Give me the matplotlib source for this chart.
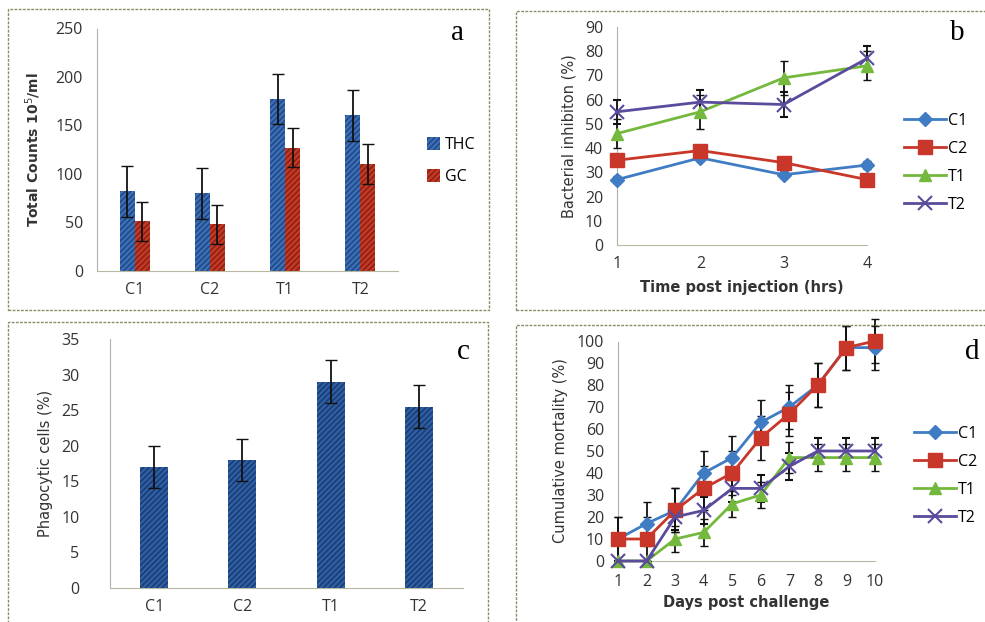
import matplotlib.pyplot as plt
from matplotlib.patches import Rectangle
import numpy as np

# panel a: total / granular counts
groups = ['C1', 'C2', 'T1', 'T2']
thc = [82, 80, 177, 160]
thc_err = [26, 26, 26, 26]
gc = [51, 48, 127, 110]
gc_err = [20, 20, 20, 21]

# panel b: bacterial inhibition
hours = [1, 2, 3, 4]
inhib = {
    'C1': [27, 36, 29, 33],
    'C2': [35, 39, 34, 27],
    'T1': [46, 55, 69, 74],
    'T2': [55, 59, 58, 77],
}
inhib_err = {
    'C1': [1.5, 1.5, 1.5, 1.5],
    'C2': [2, 2, 2, 2],
    'T1': [6, 7, 7, 6],
    'T2': [5, 5, 5, 5],
}

# panel c: phagocytic cells
phago = [17, 18, 29, 25.5]
phago_err = [3, 3, 3, 3]

# panel d: cumulative mortality
days = [1, 2, 3, 4, 5, 6, 7, 8, 9, 10]
mort = {
    'C1': [10, 17, 23, 40, 47, 63, 70, 80, 97, 97],
    'C2': [10, 10, 23, 33, 40, 56, 67, 80, 97, 100],
    'T1': [0, 0, 10, 13, 26, 30, 47, 47, 47, 47],
    'T2': [0, 0, 20, 23, 33, 33, 43, 50, 50, 50],
}
mort_err = {
    'C1': [10, 10, 10, 10, 10, 10, 10, 10, 10, 10],
    'C2': [10, 10, 10, 10, 10, 10, 10, 10, 10, 10],
    'T1': [0, 0, 6, 6, 6, 6, 7, 6, 6, 6],
    'T2': [0, 0, 6, 6, 6, 6, 6, 6, 6, 6],
}

STYLE = {
    'C1': dict(color='#3f7cc4', marker='D', ms=7),
    'C2': dict(color='#c8372a', marker='s', ms=10),
    'T1': dict(color='#74b83e', marker='^', ms=9),
    'T2': dict(color='#5b4b9c', marker='x', ms=10, mew=1.5),
}

TICK_FONT = 'Open Sans'
TXT = '#333333'
W, H = 985, 622

plt.rcParams['hatch.linewidth'] = 1.2


def ax_at(fig, left, top, right, bottom):
    return fig.add_axes([left / W, 1 - bottom / H, (right - left) / W, (bottom - top) / H])


def tidy(ax):
    for side in ['top', 'right']:
        ax.spines[side].set_visible(False)
    ax.spines['left'].set_color('#b0b0b0')
    ax.spines['left'].set_linestyle((0, (2, 1)))
    ax.spines['bottom'].set_color('#b8b8a0')
    ax.spines['left'].set_linewidth(0.8)
    ax.spines['bottom'].set_linewidth(0.8)
    ax.tick_params(axis='y', length=0, pad=10, labelsize=11.5, labelcolor=TXT)
    ax.tick_params(axis='x', length=0, pad=8, labelsize=11.5, labelcolor=TXT)
    for lab in ax.get_xticklabels() + ax.get_yticklabels():
        lab.set_fontfamily(TICK_FONT)


def frame(fig, x0, y0, x1, y1):
    fig.patches.append(Rectangle((x0 / W, 1 - y1 / H), (x1 - x0) / W, (y1 - y0) / H,
                                 transform=fig.transFigure, fill=False,
                                 edgecolor='#8c8c6a', lw=1.0, ls=(0, (2, 1))))


def line_legend(ax, fig, x0, yc):
    handles, labels = ax.get_legend_handles_labels()
    handles = [h[0] for h in handles]
    ax.legend(handles, labels, loc='center left', bbox_to_anchor=(x0 / W, 1 - yc / H),
              bbox_transform=fig.transFigure, frameon=False, borderpad=0, borderaxespad=0,
              handlelength=2.6, handletextpad=0.15, labelspacing=0.75,
              prop={'family': TICK_FONT, 'size': 11.5})


fig = plt.figure(figsize=(9.85, 6.22), dpi=100)
frame(fig, 8, 9, 489, 310)
frame(fig, 516, 11, 990, 310)
frame(fig, 8, 322, 488, 630)
frame(fig, 516, 325, 990, 630)

# ---- a ----
ax = ax_at(fig, 97, 28, 398, 271)
x = np.arange(len(groups))
bw = 0.2
ax.bar(x - bw / 2, thc, bw, color='#3d70b8', edgecolor='#1f4a86', lw=0, hatch='//////', label='THC')
ax.bar(x + bw / 2, gc, bw, color='#c63a26', edgecolor='#8c2114', lw=0, hatch='//////', label='GC')
ax.errorbar(x - bw / 2, thc, yerr=thc_err, fmt='none', ecolor='#111111', elinewidth=1.3, capsize=4)
ax.errorbar(x + bw / 2, gc, yerr=gc_err, fmt='none', ecolor='#111111', elinewidth=1.3, capsize=4)
ax.set_xlim(-0.5, 3.5)
ax.set_ylim(0, 250)
ax.set_yticks(range(0, 251, 50))
ax.set_xticks(x)
ax.set_xticklabels(groups)
tidy(ax)
ax.set_ylabel('Total Counts 10$^5$/ml', fontsize=10, fontweight='bold', color=TXT, labelpad=9)
ax.legend(loc='center left', bbox_to_anchor=(427 / W, 1 - 161 / H), bbox_transform=fig.transFigure,
          frameon=False, borderpad=0, borderaxespad=0, handlelength=0.8, handleheight=0.8,
          handletextpad=0.3, labelspacing=1.0, prop={'family': TICK_FONT, 'size': 11.5})
fig.text(458 / W, 1 - 33 / H, 'a', family='Liberation Serif', fontsize=21, ha='center', va='center')

# ---- b ----
ax = ax_at(fig, 617, 27, 867, 245)
for name, vals in inhib.items():
    st = STYLE[name]
    ax.errorbar(hours, vals, yerr=inhib_err[name], color=st['color'], lw=2, marker=st['marker'],
                ms=st['ms'], mew=st.get('mew', 1), ecolor='#111111', elinewidth=1.3, capsize=3,
                label=name, clip_on=False, zorder=3)
ax.set_xlim(1, 4)
ax.set_ylim(0, 90)
ax.set_yticks(range(0, 91, 10))
ax.set_xticks(hours)
tidy(ax)
ax.set_ylabel('Bacterial inhibiton (%)', fontsize=10.5, color=TXT, family='Liberation Sans Narrow', labelpad=6)
ax.set_xlabel('Time post injection (hrs)', fontsize=10.5, fontweight='bold', color=TXT, labelpad=6)
line_legend(ax, fig, 904, 163)
fig.text(957 / W, 1 - 33 / H, 'b', family='Liberation Serif', fontsize=21, ha='center', va='center')

# ---- c ----
ax = ax_at(fig, 110, 339, 463, 588)
ax.bar(x, phago, 0.32, color='#2f5fa5', edgecolor='#1a3d74', lw=0, hatch='//////')
ax.errorbar(x, phago, yerr=phago_err, fmt='none', ecolor='#111111', elinewidth=1.3, capsize=4)
ax.set_xlim(-0.5, 3.5)
ax.set_ylim(0, 35)
ax.set_yticks(range(0, 36, 5))
ax.set_xticks(x)
ax.set_xticklabels(groups)
tidy(ax)
ax.tick_params(axis='y', pad=22)
ax.set_ylabel('Phagocytic cells (%)', fontsize=10.5, color=TXT, family='Liberation Sans Narrow', labelpad=6)
fig.text(463 / W, 1 - 352 / H, 'c', family='Liberation Serif', fontsize=21, ha='center', va='center')

# ---- d ----
ax = ax_at(fig, 618, 341, 875, 561)
for name, vals in mort.items():
    st = STYLE[name]
    ax.errorbar(days, vals, yerr=mort_err[name], color=st['color'], lw=2, marker=st['marker'],
                ms=st['ms'], mew=st.get('mew', 1), ecolor='#111111', elinewidth=1.3, capsize=3,
                label=name, clip_on=False, zorder=3)
ax.set_xlim(1, 10)
ax.set_ylim(0, 100)
ax.set_yticks(range(0, 101, 10))
ax.set_xticks(days)
tidy(ax)
ax.tick_params(axis='x', pad=9)
ax.set_ylabel('Cumulative mortality (%)', fontsize=10.5, color=TXT, family='Liberation Sans Narrow', labelpad=6)
ax.set_xlabel('Days post challenge', fontsize=10.5, fontweight='bold', color=TXT, labelpad=4)
line_legend(ax, fig, 914, 476)
fig.text(972 / W, 1 - 352 / H, 'd', family='Liberation Serif', fontsize=21, ha='center', va='center')

fig.savefig('out.png', dpi=100)
